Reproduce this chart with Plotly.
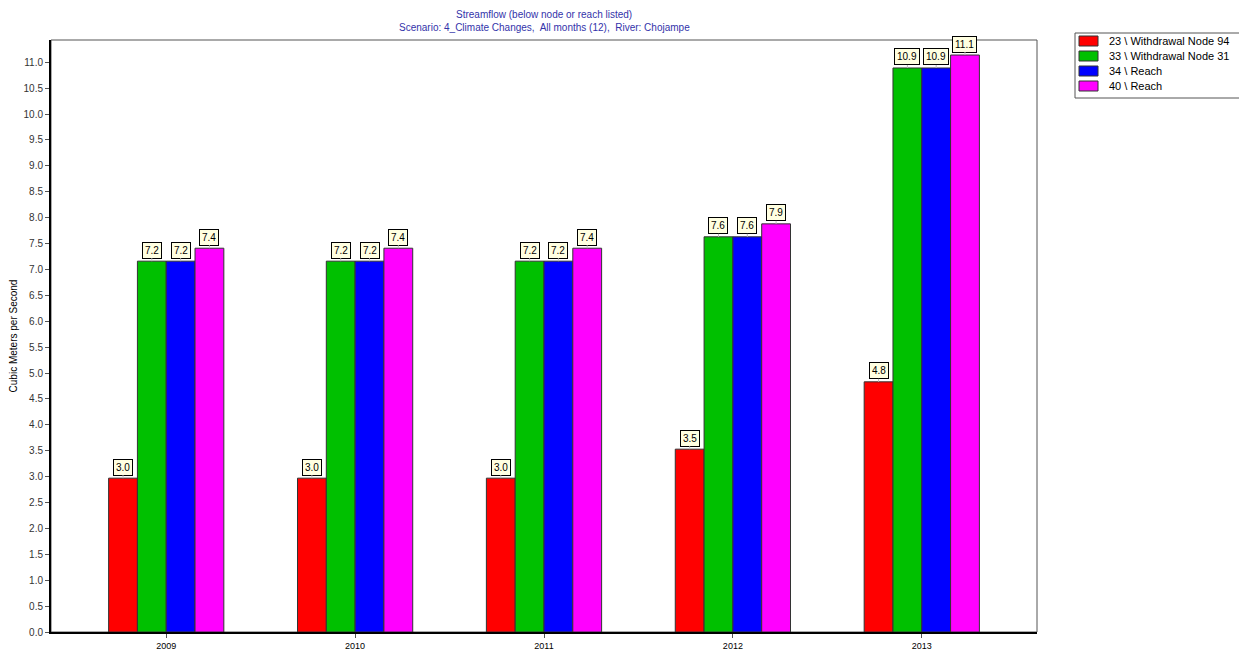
import plotly.graph_objects as go

# Data
years = [2009, 2010, 2011, 2012, 2013]
withdrawal_94 = [2.97, 2.97, 2.97, 3.53, 4.83]
withdrawal_31 = [7.16, 7.16, 7.16, 7.63, 10.89]
reach_34 = [7.16, 7.16, 7.16, 7.63, 10.89]
reach_40 = [7.41, 7.41, 7.41, 7.88, 11.14]

series_names = ["23 \\ Withdrawal Node 94", "33 \\ Withdrawal Node 31", "34 \\ Reach", "40 \\ Reach"]
series_values = [withdrawal_94, withdrawal_31, reach_34, reach_40]
colors = ["#ff0000", "#00c000", "#0000ff", "#ff00ff"]
title_lines = ["Streamflow (below node or reach listed)",
               "Scenario: 4_Climate Changes,  All months (12),  River: Chojampe"]

# page has an 8px body margin, so the figure is a bit smaller than the window
PAGE_OFF = 8
FIG_W, FIG_H = 1247 - PAGE_OFF, 657 - PAGE_OFF

# plot area in window pixels (used to place things outside the axes)
L, R, T, B = 51, 1037, 40, 632
W, H = R - L, B - T


def px(xp):
    return (xp - L) / W


def py(yp):
    return (B - yp) / H


bargap = 0.39
bar_w = (1 - bargap) / len(series_values)

fig = go.Figure()
for name, vals, col in zip(series_names, series_values, colors):
    fig.add_trace(go.Bar(x=years, y=vals, name=name, showlegend=False,
                         marker=dict(color=col, line=dict(color="#333333", width=1))))

annotations = []
shapes = []

# value labels in little yellow boxes
for i, vals in enumerate(series_values):
    off = (i - (len(series_values) - 1) / 2) * bar_w
    for yr, v in zip(years, vals):
        annotations.append(dict(
            x=yr + off, y=v, xref="x", yref="y", text=f"{v:.1f}",
            showarrow=True, arrowhead=0, arrowwidth=1, arrowcolor="#bbbbbb",
            ax=0, ay=-11, bgcolor="#ffffe1", bordercolor="#000000",
            borderwidth=1, borderpad=2,
            font=dict(family="Liberation Sans, Arial", size=10, color="#000000")))

# two-line title
for line, ypix in zip(title_lines, [14, 27]):
    annotations.append(dict(x=px(544), y=py(ypix), xref="paper", yref="paper",
                            text=line, showarrow=False, xanchor="center", yanchor="middle",
                            font=dict(size=10, color="#3333aa")))

# legend drawn by hand to match the boxed legend of the original
shapes.append(dict(type="rect", xref="paper", yref="paper",
                   x0=px(1075), x1=px(1243), y0=py(33), y1=py(98),
                   line=dict(color="#555555", width=1), fillcolor="white"))
for k, (name, col) in enumerate(zip(series_names, colors)):
    yc = 41 + 15 * k
    shapes.append(dict(type="rect", xref="paper", yref="paper",
                       x0=px(1079), x1=px(1098), y0=py(yc + 5), y1=py(yc - 5),
                       line=dict(color="#333333", width=1), fillcolor=col))
    annotations.append(dict(x=px(1107), y=py(yc), xref="paper", yref="paper",
                            text=name, showarrow=False, xanchor="left", yanchor="middle",
                            font=dict(size=11, color="#000000")))

# thin frame around the plot area
shapes.append(dict(type="rect", xref="paper", yref="paper", x0=0, y0=0, x1=1, y1=1,
                   line=dict(color="#555555", width=1), layer="below"))

fig.update_layout(
    width=FIG_W, height=FIG_H,
    margin=dict(l=L - PAGE_OFF, r=1247 - R, t=T - PAGE_OFF, b=657 - B),
    paper_bgcolor="white", plot_bgcolor="white",
    barmode="group", bargap=bargap, bargroupgap=0,
    font=dict(family="Liberation Sans, Arial", size=10, color="#333333"),
    showlegend=False,
    annotations=annotations,
    shapes=shapes,
)

fig.update_xaxes(range=[2008.39, 2013.61], tickvals=years, ticktext=[str(y) for y in years],
                 showgrid=False, showline=True, linecolor="#000000", linewidth=2,
                 ticks="outside", ticklen=4, tickcolor="#555555", zeroline=False,
                 automargin=False, tickfont=dict(size=9, color="#000000"))
fig.update_yaxes(range=[0, 11.43], dtick=0.5, tickformat=".1f",
                 showgrid=False, showline=True, linecolor="#000000", linewidth=2,
                 ticks="outside", ticklen=4, tickcolor="#555555", zeroline=False,
                 automargin=False,
                 title=dict(text="Cubic Meters per Second", standoff=4,
                            font=dict(size=10, color="#000000")))

fig.write_html("out.html")
